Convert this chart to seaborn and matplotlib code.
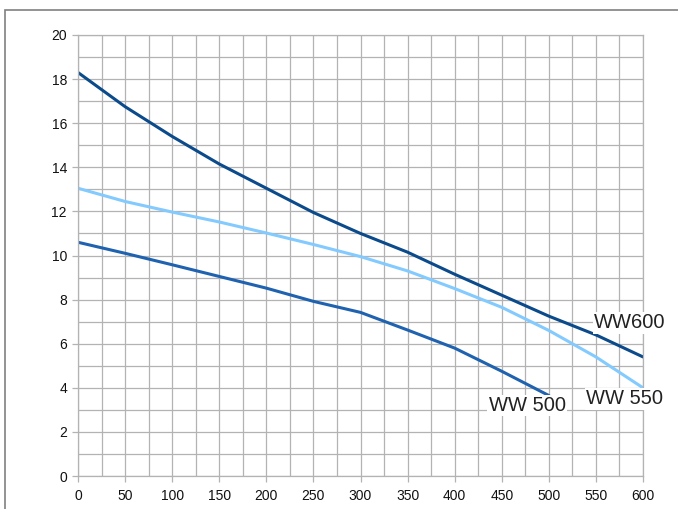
import pandas as pd
import matplotlib.pyplot as plt
import matplotlib.patches as mpatches
import seaborn as sns
import numpy as np

# flow values
x_600 = [0, 50, 100, 150, 200, 250, 300, 350, 400, 450, 500, 550, 600]
ww600 = [18.3, 16.75, 15.4, 14.15, 13.05, 11.95, 11.0, 10.15, 9.15, 8.2, 7.25, 6.4, 5.4]
x_550 = [0, 50, 100, 150, 200, 250, 300, 350, 400, 450, 500, 550, 600]
ww550 = [13.05, 12.45, 11.97, 11.52, 11.02, 10.5, 9.95, 9.3, 8.5, 7.65, 6.6, 5.4, 4.0]
x_500 = [0, 50, 100, 150, 200, 250, 300, 350, 400, 450, 500]
ww500 = [10.6, 10.1, 9.58, 9.05, 8.52, 7.92, 7.42, 6.62, 5.8, 4.75, 3.65]

series_names = ['WW600', 'WW 550', 'WW 500']
colors = ['#0b4a8b', '#83caff', '#1f62b0']

df = pd.concat([
    pd.DataFrame({'x': x_600, 'y': ww600, 'series': 'WW600'}),
    pd.DataFrame({'x': x_550, 'y': ww550, 'series': 'WW 550'}),
    pd.DataFrame({'x': x_500, 'y': ww500, 'series': 'WW 500'}),
])

sns.set_style('white')
plt.rcParams['font.family'] = ['Liberation Sans', 'DejaVu Sans']

fig = plt.figure(figsize=(6.78, 5.09), dpi=100)
ax = fig.add_axes([78 / 678, 1 - 476 / 509, 565 / 678, 441 / 509])

sns.lineplot(data=df, x='x', y='y', hue='series', hue_order=series_names,
             palette=colors, linewidth=2.2, legend=False, ax=ax, sort=False)

ax.set_xlim(0, 600)
ax.set_ylim(0, 20)
ax.set_xticks(np.arange(0, 601, 50))
ax.set_yticks(np.arange(0, 21, 2))
ax.set_xticks(np.arange(0, 601, 25), minor=True)
ax.set_yticks(np.arange(0, 21, 1), minor=True)
ax.grid(True, which='both', color='#b3b3b3', linewidth=0.9)
ax.set_axisbelow(True)
for s in ax.spines.values():
    s.set_color('#b3b3b3')
    s.set_linewidth(0.9)
ax.tick_params(which='major', length=4, width=0.9, color='#b3b3b3',
               labelsize=10, labelcolor='#111111', pad=4)
ax.tick_params(axis='x', pad=5)
ax.tick_params(which='minor', length=0)
ax.tick_params(axis='x', bottom=True)
ax.tick_params(axis='y', left=True)
ax.set_xlabel('')
ax.set_ylabel('')

# series labels at the line ends
box = dict(facecolor='white', edgecolor='none', pad=1)
ax.text(548, 6.95, 'WW600', fontsize=14.5, ha='left', va='center',
        color='#222222', bbox=box, clip_on=False)
ax.text(540, 3.5, 'WW 550', fontsize=14.5, ha='left', va='center',
        color='#222222', bbox=box, clip_on=False)
ax.text(436, 3.2, 'WW 500', fontsize=14.5, ha='left', va='center',
        color='#222222', bbox=box, clip_on=False)

# outer frame
fig.patches.append(mpatches.Rectangle((5 / 678, -0.1), 1.2, 1 - 10 / 509 + 0.1,
                                      transform=fig.transFigure, fill=False,
                                      edgecolor='#808080', linewidth=1.2))

plt.savefig('out.png', dpi=100)
